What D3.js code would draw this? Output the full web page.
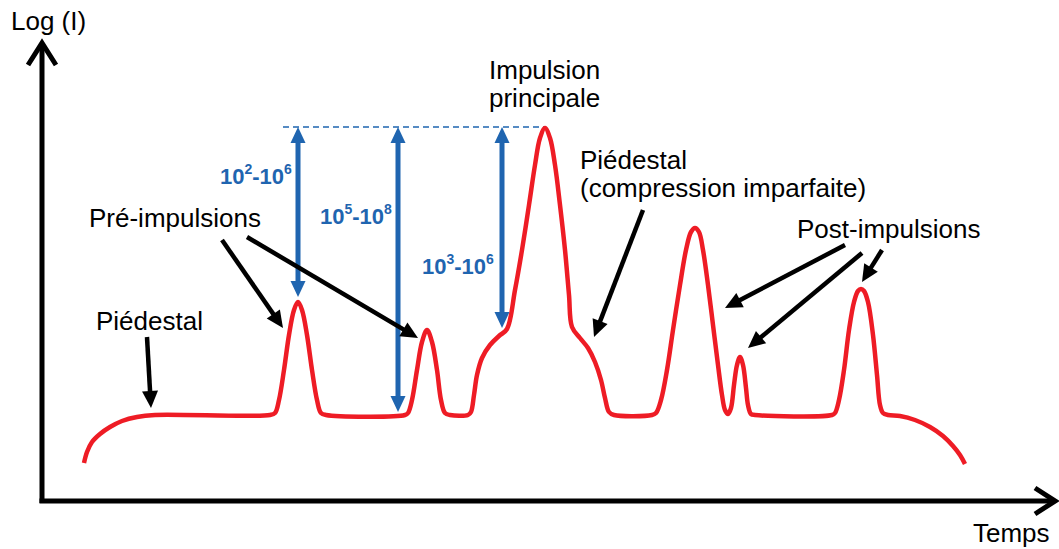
<!DOCTYPE html>
<html>
<head>
<meta charset="utf-8">
<script src="https://cdn.jsdelivr.net/npm/d3@7"></script>
<style>
  html, body { margin: 0; padding: 0; background: #fff; }
  svg { display: block; }
  text { font-family: "Liberation Sans", Arial, sans-serif; }
</style>
</head>
<body>
<svg id="chart" width="1059" height="549"></svg>
<script>
// ---- Data (time in arbitrary units, level in log(I) arbitrary units) ----
const curveTime = [
  4.2, 4.5, 5.0, 5.8, 6.8, 8.0, 9.5, 11.3, 22.8,
  23.3, 23.7, 24.2, 24.7, 25.2, 25.6, 26.0, 26.5, 27.0, 27.5, 27.9, 28.4, 36.3,
  36.6, 37.0, 37.5, 38.0, 38.5, 39.0, 39.5, 39.9, 40.3, 40.8, 42.6,
  42.9, 43.2, 43.5, 44.0, 44.8, 45.7, 46.5, 47.3, 48.0, 48.7, 49.3, 49.8, 50.3,
  50.8, 51.3, 51.8, 52.3, 52.7, 53.0, 53.8, 54.6, 55.3, 55.9, 56.3, 56.7, 57.2, 61.0,
  61.4, 61.9, 62.5, 63.1, 63.8, 64.4, 64.9, 65.3, 65.7, 66.1, 66.6, 67.1, 67.6, 68.0, 68.3, 68.6,
  68.9, 69.2, 69.5, 69.8, 70.1, 70.4, 70.6, 70.9, 71.3, 79.0,
  79.3, 79.7, 80.2, 80.7, 81.2, 81.6, 81.9, 82.2, 82.6, 83.1, 83.5, 83.8, 84.1, 84.6,
  85.8, 87.3, 88.8, 90.1, 91.1, 91.8, 92.3
];
const curveLevel = [
  0.76, 0.98, 1.18, 1.34, 1.48, 1.60, 1.68, 1.72, 1.72,
  1.76, 2.02, 2.62, 3.32, 3.82, 3.98, 3.82, 3.32, 2.62, 2.02, 1.76, 1.72, 1.72,
  1.76, 2.02, 2.62, 3.18, 3.42, 3.18, 2.62, 2.02, 1.76, 1.72, 1.72,
  1.78, 2.12, 2.52, 2.86, 3.12, 3.30, 3.44, 4.22, 5.02, 5.92, 6.72, 7.26, 7.46,
  7.26, 6.72, 5.92, 5.02, 4.12, 3.48, 3.26, 3.06, 2.78, 2.42, 2.06, 1.78, 1.72, 1.72,
  1.76, 2.02, 2.62, 3.42, 4.32, 5.02, 5.38, 5.46, 5.38, 5.02, 4.32, 3.52, 2.72, 2.12, 1.82, 1.74,
  1.86, 2.32, 2.72, 2.88, 2.72, 2.26, 1.92, 1.74, 1.72, 1.72,
  1.76, 2.02, 2.62, 3.42, 3.98, 4.20, 4.24, 4.20, 3.98, 3.32, 2.52, 1.92, 1.76, 1.72,
  1.70, 1.62, 1.48, 1.30, 1.10, 0.92, 0.74
];

// contrast measurement arrows (double headed, blue)
const contrastTime = [25.6, 35.6, 46.0];
const contrastTop = 7.48;
const contrastBottom = [4.08, 1.78, 3.46];
const contrastBase = ["10", "10", "10"];
const contrastLowExp = ["2", "5", "3"];
const contrastHighExp = ["6", "8", "6"];
const dashStart = 24.1, dashEnd = 50.3;

// annotation labels
const labelLines = [
  ["Impulsion", "principale"],
  ["Piédestal", "(compression imparfaite)"],
  ["Pré-impulsions"],
  ["Piédestal"],
  ["Post-impulsions"]
];
// annotation pointer arrows [t, L] from -> to
const pointerFrom = [[18.0, 5.22], [20.5, 5.28], [10.5, 3.28], [60.1, 5.82], [80.3, 5.12], [82.0, 4.96], [84.0, 5.02]];
const pointerTo   = [[24.1, 3.46], [37.6, 3.26], [10.9, 1.86], [55.2, 3.28], [68.3, 3.86], [70.6, 3.06], [82.0, 4.38]];

const yAxisTitle = "Log (I)";
const xAxisTitle = "Temps";

// ---- Drawing ----
const svg = d3.select("#chart");
const x = d3.scaleLinear().domain([0, 101]).range([42, 1052]);
const y = d3.scaleLinear().domain([0, 9.1]).range([501, 46]);

const RED = "#ee1c25", BLUE = "#1f65b0";
const FS = 26;

svg.append("rect").attr("width", 1059).attr("height", 549).attr("fill", "#fff");

// Axes (arrows)
const x0 = x(0), y0 = y(0), xEnd = x.range()[1], yTop = y.range()[1];
svg.append("path")
  .attr("d", `M${x0},${y0 + 2}L${x0},${yTop - 2}`)
  .attr("stroke", "#000").attr("stroke-width", 5).attr("fill", "none");
svg.append("path")
  .attr("d", `M${x0 - 14},${yTop + 19}L${x0},${yTop - 3}L${x0 + 14},${yTop + 19}`)
  .attr("stroke", "#000").attr("stroke-width", 5).attr("fill", "none").attr("stroke-linejoin", "miter");
svg.append("path")
  .attr("d", `M${x0 - 2.5},${y0}L${xEnd + 2},${y0}`)
  .attr("stroke", "#000").attr("stroke-width", 5).attr("fill", "none");
svg.append("path")
  .attr("d", `M${xEnd - 17},${y0 - 13}L${xEnd + 3},${y0}L${xEnd - 17},${y0 + 13}`)
  .attr("stroke", "#000").attr("stroke-width", 5).attr("fill", "none").attr("stroke-linejoin", "miter");

svg.append("text").attr("x", 11).attr("y", 30).attr("font-size", FS).text(yAxisTitle);
svg.append("text").attr("x", 973).attr("y", 542).attr("font-size", FS).text(xAxisTitle);

// Dashed reference line
svg.append("line")
  .attr("x1", x(dashStart)).attr("x2", x(dashEnd))
  .attr("y1", y(contrastTop)).attr("y2", y(contrastTop))
  .attr("stroke", BLUE).attr("stroke-width", 1.3).attr("stroke-dasharray", "6,4");

// Pulse curve
const pts = curveTime.map((t, i) => [t, curveLevel[i]]);
const line = d3.line().x(d => x(d[0])).y(d => y(d[1])).curve(d3.curveCatmullRom.alpha(0.5));
svg.append("path").attr("d", line(pts))
  .attr("fill", "none").attr("stroke", RED).attr("stroke-width", 4.5)
  .attr("stroke-linejoin", "round").attr("stroke-linecap", "butt");

// Blue double arrows
function head(g, xt, yt, dir, color, len, hw) {
  g.append("path")
    .attr("d", `M${xt},${yt}L${xt - hw},${yt - dir * len}L${xt + hw},${yt - dir * len}Z`)
    .attr("fill", color);
}
contrastTime.forEach((t, i) => {
  const xx = x(t), yt = y(contrastTop), yb = y(contrastBottom[i]);
  svg.append("line").attr("x1", xx).attr("x2", xx).attr("y1", yt + 12).attr("y2", yb - 12)
    .attr("stroke", BLUE).attr("stroke-width", 5);
  head(svg, xx, yt, -1, BLUE, 16, 7.5);
  head(svg, xx, yb, 1, BLUE, 16, 7.5);
});

// Blue labels
const blueLabelPos = [[220, 184], [320, 224], [422, 274]];
contrastTime.forEach((t, i) => {
  const tx = svg.append("text").attr("x", blueLabelPos[i][0]).attr("y", blueLabelPos[i][1])
    .attr("font-size", 22).attr("font-weight", "bold").attr("fill", BLUE);
  tx.append("tspan").text(contrastBase[i]);
  tx.append("tspan").attr("dy", -10).attr("font-size", 14).text(contrastLowExp[i]);
  tx.append("tspan").attr("dy", 10).text("-" + contrastBase[i]);
  tx.append("tspan").attr("dy", -10).attr("font-size", 14).text(contrastHighExp[i]);
});

// Black text labels
const labelPos = [[489, 79, 28], [580, 169, 28], [89, 227, 0], [96, 330, 0], [797, 238, 0]];
labelLines.forEach((lines, i) => {
  lines.forEach((s, j) => {
    svg.append("text").attr("x", labelPos[i][0]).attr("y", labelPos[i][1] + j * labelPos[i][2])
      .attr("font-size", FS).attr("fill", "#000").text(s);
  });
});

// Black pointer arrows
pointerFrom.forEach((f, i) => {
  const x1 = x(f[0]), y1 = y(f[1]), x2 = x(pointerTo[i][0]), y2 = y(pointerTo[i][1]);
  const ang = Math.atan2(y2 - y1, x2 - x1);
  const len = 17, hw = 8;
  const bx = x2 - len * Math.cos(ang), by = y2 - len * Math.sin(ang);
  svg.append("line").attr("x1", x1).attr("y1", y1).attr("x2", bx + Math.cos(ang)).attr("y2", by + Math.sin(ang))
    .attr("stroke", "#000").attr("stroke-width", 4.5);
  const px = -Math.sin(ang), py = Math.cos(ang);
  svg.append("path")
    .attr("d", `M${x2},${y2}L${bx + px * hw},${by + py * hw}L${bx - px * hw},${by - py * hw}Z`)
    .attr("fill", "#000");
});
</script>
</body>
</html>
